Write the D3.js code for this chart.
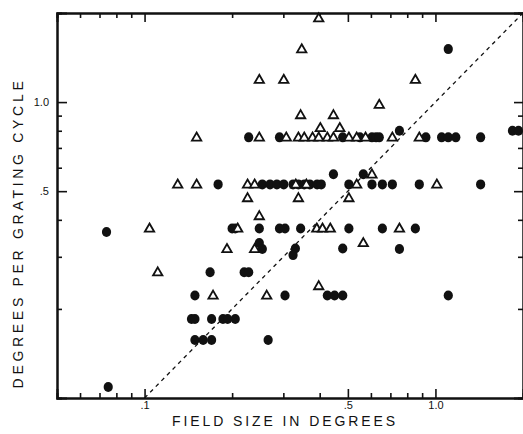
<!DOCTYPE html>
<html>
<head>
<meta charset="utf-8">
<script src="https://cdn.jsdelivr.net/npm/d3@7"></script>
<style>
  body { margin: 0; background: #fff; }
  text { font-family: "Liberation Sans", Arial, sans-serif; fill: #111; }
</style>
</head>
<body>
<div id="chart"></div>
<script>
// field size (deg) / degrees per grating cycle -- filled circles
var dotField = [0.074, 0.075, 0.179, 0.228, 0.291, 0.48, 0.55, 0.605, 0.625, 0.641, 0.752, 0.927, 1.05, 1.107, 1.175, 1.43, 1.84, 1.93, 1.107,
  0.254, 0.270, 0.285, 0.301, 0.324, 0.338, 0.354, 0.37, 0.392, 0.405, 0.446, 0.504, 0.565, 0.605, 0.657, 0.711, 0.88, 1.43,
  0.200, 0.205, 0.248, 0.291, 0.304, 0.344, 0.504, 0.657, 0.853,
  0.248, 0.254, 0.33, 0.324, 0.48, 0.752,
  0.168, 0.220, 0.228,
  0.149, 0.304, 0.425, 0.45, 0.48, 1.107,
  0.145, 0.149, 0.170, 0.186, 0.193, 0.205,
  0.149, 0.159, 0.170, 0.266]
var dotCycle = [0.364, 0.109, 0.527, 0.76, 0.76, 0.76, 0.76, 0.76, 0.76, 0.76, 0.80, 0.76, 0.76, 0.76, 0.76, 0.76, 0.80, 0.80, 1.51,
  0.527, 0.527, 0.527, 0.527, 0.527, 0.527, 0.527, 0.527, 0.527, 0.527, 0.57, 0.527, 0.57, 0.527, 0.527, 0.527, 0.527, 0.527,
  0.374, 0.374, 0.374, 0.374, 0.374, 0.374, 0.374, 0.374, 0.374,
  0.334, 0.319, 0.32, 0.304, 0.32, 0.319,
  0.266, 0.266, 0.266,
  0.222, 0.222, 0.222, 0.222, 0.222, 0.222,
  0.185, 0.185, 0.185, 0.185, 0.185, 0.185,
  0.157, 0.157, 0.157, 0.157]

// open triangles
var triField = [0.397, 0.347, 0.248, 0.301, 0.853, 0.641, 0.344, 0.446, 0.402, 0.469,
  0.151, 0.248, 0.307, 0.338, 0.354, 0.378, 0.397, 0.425, 0.446, 0.504, 0.536, 0.575, 0.711, 0.88,
  0.130, 0.151, 0.226, 0.239, 0.331, 0.36, 0.536, 0.605, 1.011,
  0.226, 0.338, 0.504, 0.248,
  0.104, 0.209, 0.391, 0.409, 0.435, 0.752,
  0.192, 0.239, 0.565,
  0.111,
  0.172, 0.263, 0.397]
var triCycle = [1.92, 1.51, 1.19, 1.19, 1.19, 0.98, 0.904, 0.904, 0.818, 0.818,
  0.76, 0.76, 0.76, 0.76, 0.76, 0.76, 0.76, 0.76, 0.76, 0.76, 0.76, 0.76, 0.76, 0.76,
  0.527, 0.527, 0.527, 0.527, 0.527, 0.527, 0.527, 0.57, 0.527,
  0.474, 0.474, 0.474, 0.412,
  0.374, 0.374, 0.374, 0.374, 0.374, 0.374,
  0.319, 0.319, 0.334,
  0.266,
  0.222, 0.222, 0.239]

var xMajor = [0.1, 0.5, 1.0]
var xMajorLabels = [".1", ".5", "1.0"]
var xMinor = [0.06, 0.07, 0.08, 0.09, 0.2, 0.3, 0.4, 0.6, 0.7, 0.8, 0.9]
var yMajor = [0.5, 1.0]
var yMajorLabels = [".5", "1.0"]
var yMinor = [0.2, 0.3, 0.4, 0.6, 0.7, 0.8, 0.9]

var W = 523, H = 434
var pL = 57, pR = 523, pT = 13, pB = 398

var svg = d3.select('#chart').append('svg')
  .attr('width', W)
  .attr('height', H)

var x = d3.scaleLog().domain([0.05, 2]).range([pL, pR])
var y = d3.scaleLog().domain([0.1, 2]).range([pB, pT])

function fmt(vals, labels) {
  return function(d) { return labels[vals.indexOf(d)] }
}

// bottom axis, ticks pointing up
svg.append('g')
  .attr('transform', 'translate(0,' + pB + ')')
  .call(d3.axisBottom(x).tickValues(xMinor).tickSize(-5).tickFormat(''))
svg.append('g')
  .attr('transform', 'translate(0,' + pB + ')')
  .call(d3.axisBottom(x).tickValues(xMajor).tickSize(-9).tickPadding(3).tickFormat(fmt(xMajor, xMajorLabels)))

// top axis, ticks pointing down
svg.append('g')
  .attr('transform', 'translate(0,' + pT + ')')
  .call(d3.axisTop(x).tickValues(xMinor).tickSize(-5).tickFormat(''))
svg.append('g')
  .attr('transform', 'translate(0,' + pT + ')')
  .call(d3.axisTop(x).tickValues(xMajor).tickSize(-9).tickFormat(''))

// left axis
svg.append('g')
  .attr('transform', 'translate(' + pL + ',0)')
  .call(d3.axisLeft(y).tickValues(yMinor).tickSize(-5).tickFormat(''))
svg.append('g')
  .attr('transform', 'translate(' + pL + ',0)')
  .call(d3.axisLeft(y).tickValues(yMajor).tickSize(-10).tickPadding(8).tickFormat(fmt(yMajor, yMajorLabels)))

// right side: ticks only, the frame line sits on the page edge
svg.append('g')
  .attr('transform', 'translate(' + pR + ',0)')
  .call(d3.axisRight(y).tickValues(yMinor).tickSize(-5).tickFormat(''))
svg.append('g')
  .attr('transform', 'translate(' + pR + ',0)')
  .call(d3.axisRight(y).tickValues(yMajor).tickSize(-9).tickFormat(''))

svg.selectAll('.domain').attr('stroke', '#111').attr('stroke-width', 2)
svg.selectAll('.tick line').attr('stroke', '#111').attr('stroke-width', 1.6)
svg.selectAll('.tick text')
  .style('font-family', '"Liberation Sans", Arial, sans-serif')
  .style('font-size', '11px')
  .attr('fill', '#111')

// dashed y = x line
svg.append('line')
  .attr('x1', x(0.1))
  .attr('y1', y(0.1))
  .attr('x2', x(2))
  .attr('y2', y(2))
  .attr('stroke', '#111')
  .attr('stroke-width', 1.3)
  .attr('stroke-dasharray', '4,4')

// filled circles
svg.selectAll('.dot')
  .data(d3.range(dotField.length))
  .enter().append('ellipse')
  .attr('class', 'dot')
  .attr('cx', function(i) { return x(dotField[i]) })
  .attr('cy', function(i) { return y(dotCycle[i]) })
  .attr('rx', 4.6)
  .attr('ry', 5)
  .attr('fill', '#111')

// open triangles
var tri = d3.symbol().type(d3.symbolTriangle).size(38)
svg.selectAll('.tri')
  .data(d3.range(triField.length))
  .enter().append('path')
  .attr('class', 'tri')
  .attr('transform', function(i) { return 'translate(' + x(triField[i]) + ',' + (y(triCycle[i]) + 0.5) + ')' })
  .attr('d', tri)
  .attr('fill', '#fff')
  .attr('stroke', '#111')
  .attr('stroke-width', 1.8)

// axis titles
svg.append('text')
  .attr('x', 285)
  .attr('y', 426)
  .attr('text-anchor', 'middle')
  .style('font-size', '14px')
  .style('letter-spacing', '2.9px')
  .text('FIELD SIZE IN DEGREES')

svg.append('text')
  .attr('transform', 'translate(23,233) rotate(-90)')
  .attr('text-anchor', 'middle')
  .style('font-size', '14px')
  .style('letter-spacing', '3.7px')
  .text('DEGREES PER GRATING CYCLE')
</script>
</body>
</html>
